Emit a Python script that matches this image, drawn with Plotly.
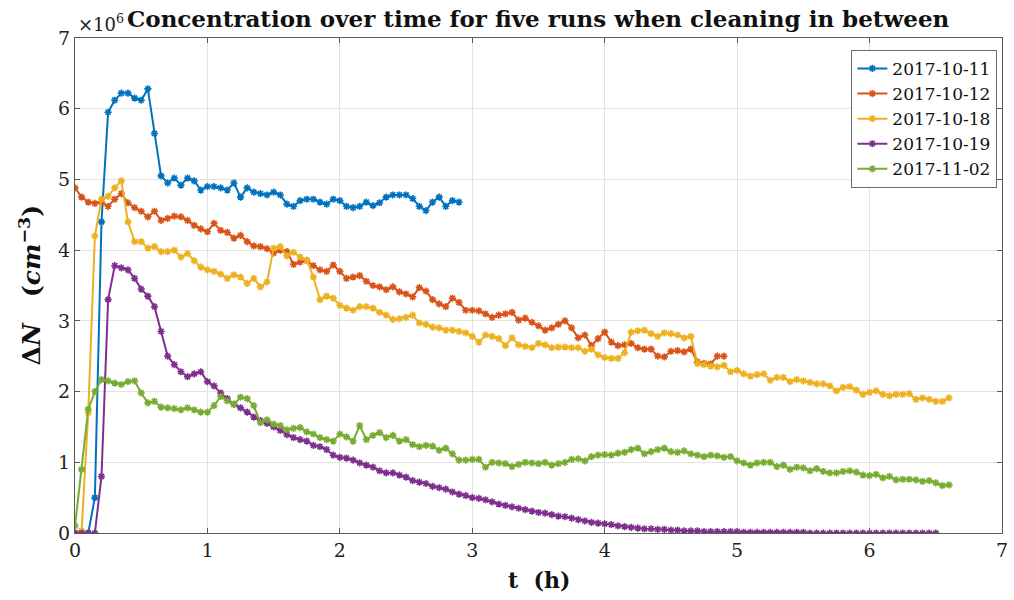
import numpy as np
import plotly.graph_objects as go

DT = 0.05  # sampling step in hours

series_names = ["2017-10-11", "2017-10-12", "2017-10-18", "2017-10-19", "2017-11-02"]
colors = ["#0072BD", "#D95319", "#EDB120", "#7E2F8E", "#77AC30"]

# Concentration values in units of 1e6 cm^-3, sampled every 0.05 h from t=0
run_2017_10_11 = [0, 0, 0, 0.5, 4.4, 5.95, 6.12, 6.22, 6.22, 6.15, 6.12, 6.28, 5.65, 5.05, 4.95, 5.02,
                  4.92, 5.02, 4.98, 4.85, 4.9, 4.9, 4.88, 4.85, 4.95, 4.75, 4.88, 4.82, 4.8, 4.78, 4.82,
                  4.78, 4.65, 4.62, 4.7, 4.72, 4.72, 4.68, 4.65, 4.72, 4.7, 4.62, 4.6, 4.62, 4.68, 4.63,
                  4.67, 4.75, 4.78, 4.78, 4.78, 4.73, 4.62, 4.56, 4.68, 4.75, 4.62, 4.7, 4.68]

run_2017_10_12 = [4.88, 4.75, 4.68, 4.66, 4.68, 4.62, 4.72, 4.8, 4.67, 4.6, 4.55, 4.47, 4.55, 4.42, 4.45,
                  4.48, 4.47, 4.42, 4.35, 4.3, 4.26, 4.38, 4.28, 4.25, 4.17, 4.21, 4.12, 4.06, 4.05, 4.02,
                  3.96, 4.0, 3.98, 3.8, 3.83, 3.85, 3.78, 3.72, 3.7, 3.79, 3.7, 3.6, 3.62, 3.64, 3.56,
                  3.5, 3.48, 3.44, 3.48, 3.41, 3.38, 3.34, 3.47, 3.42, 3.3, 3.24, 3.2, 3.32, 3.26, 3.15,
                  3.15, 3.14, 3.1, 3.05, 3.08, 3.1, 3.12, 3.01, 3.04, 2.98, 2.93, 2.87, 2.9, 2.95, 3.0,
                  2.9, 2.76, 2.8, 2.65, 2.75, 2.84, 2.7, 2.65, 2.66, 2.68, 2.62, 2.6, 2.6, 2.5, 2.49,
                  2.57, 2.58, 2.56, 2.6, 2.42, 2.4, 2.39, 2.5, 2.5]

run_2017_10_18 = [0, 0.03, 1.7, 4.2, 4.72, 4.76, 4.88, 4.98, 4.4, 4.12, 4.12, 4.03, 4.05, 3.98, 3.98,
                  4.0, 3.9, 3.95, 3.85, 3.76, 3.72, 3.7, 3.66, 3.6, 3.65, 3.62, 3.53, 3.6, 3.48, 3.55,
                  4.03, 4.05, 3.92, 3.97, 3.9, 3.86, 3.62, 3.3, 3.35, 3.32, 3.22, 3.18, 3.15, 3.2, 3.2,
                  3.18, 3.12, 3.08, 3.02, 3.03, 3.05, 3.08, 2.97, 2.95, 2.91, 2.9, 2.87, 2.87, 2.85, 2.83,
                  2.78, 2.7, 2.8, 2.78, 2.75, 2.65, 2.76, 2.66, 2.64, 2.62, 2.68, 2.66, 2.62, 2.63, 2.63,
                  2.62, 2.62, 2.57, 2.6, 2.52, 2.48, 2.47, 2.47, 2.55, 2.84, 2.86, 2.87, 2.82, 2.78, 2.83,
                  2.82, 2.8, 2.76, 2.78, 2.4, 2.38, 2.36, 2.35, 2.37, 2.28, 2.3, 2.25, 2.22, 2.24, 2.25,
                  2.16, 2.2, 2.2, 2.14, 2.17, 2.15, 2.13, 2.11, 2.11, 2.08, 2.01, 2.06, 2.07, 2.02, 1.96,
                  1.99, 2.01, 1.96, 1.94, 1.96, 1.96, 1.97, 1.89, 1.91, 1.89, 1.86, 1.86, 1.91]

run_2017_10_19 = [0, 0, 0, 0, 0.8, 3.3, 3.78, 3.75, 3.72, 3.6, 3.45, 3.35, 3.2, 2.85, 2.5, 2.38, 2.28,
                  2.21, 2.25, 2.28, 2.14, 2.08, 1.98, 1.9, 1.82, 1.77, 1.71, 1.64, 1.59, 1.55, 1.5, 1.45,
                  1.39, 1.35, 1.32, 1.3, 1.24, 1.22, 1.18, 1.1, 1.07, 1.06, 1.03, 0.99, 0.96, 0.93, 0.88,
                  0.85, 0.85, 0.82, 0.79, 0.74, 0.72, 0.7, 0.66, 0.64, 0.62, 0.58, 0.55, 0.53, 0.5, 0.49,
                  0.47, 0.44, 0.41, 0.39, 0.37, 0.35, 0.33, 0.31, 0.29, 0.28, 0.26, 0.24, 0.23, 0.21, 0.19,
                  0.17, 0.15, 0.14, 0.13, 0.12, 0.1, 0.09, 0.08, 0.07, 0.06, 0.06, 0.05, 0.05, 0.04, 0.04,
                  0.03, 0.03, 0.03, 0.02, 0.02, 0.02, 0.02, 0.02, 0.02, 0.01, 0.01, 0.01, 0.01, 0.01, 0.01,
                  0.01, 0.01, 0.01, 0.01, 0, 0, 0, 0, 0, 0, 0, 0, 0, 0, 0, 0, 0, 0, 0, 0, 0, 0, 0, 0]

run_2017_11_02 = [0.1, 0.9, 1.75, 2.0, 2.17, 2.15, 2.12, 2.1, 2.14, 2.15, 1.98, 1.84, 1.86, 1.78, 1.77,
                  1.76, 1.74, 1.77, 1.74, 1.71, 1.71, 1.8, 1.93, 1.87, 1.82, 1.92, 1.9, 1.8, 1.56, 1.6,
                  1.54, 1.52, 1.46, 1.48, 1.49, 1.43, 1.4, 1.35, 1.32, 1.3, 1.4, 1.36, 1.3, 1.52, 1.32,
                  1.38, 1.42, 1.35, 1.38, 1.3, 1.32, 1.25, 1.22, 1.24, 1.23, 1.17, 1.2, 1.12, 1.03, 1.03,
                  1.04, 1.04, 0.93, 1.0, 0.99, 0.98, 0.94, 0.97, 1.0, 0.99, 0.98, 1.0, 0.96, 0.98, 1.0,
                  1.04, 1.05, 1.02, 1.08, 1.1, 1.11, 1.1, 1.13, 1.14, 1.18, 1.2, 1.12, 1.15, 1.18, 1.2,
                  1.15, 1.14, 1.16, 1.12, 1.1, 1.08, 1.1, 1.09, 1.07, 1.08, 1.02, 0.99, 0.96, 0.99, 1.0,
                  1.0, 0.94, 0.96, 0.9, 0.93, 0.92, 0.88, 0.91, 0.87, 0.85, 0.85, 0.87, 0.88, 0.86, 0.82,
                  0.81, 0.83, 0.78, 0.8, 0.75, 0.76, 0.76, 0.75, 0.73, 0.74, 0.71, 0.67, 0.68]

all_runs = [run_2017_10_11, run_2017_10_12, run_2017_10_18, run_2017_10_19, run_2017_11_02]

x_ticks = [0, 1, 2, 3, 4, 5, 6, 7]
y_ticks = [0, 1, 2, 3, 4, 5, 6, 7]

FONT = "DejaVu Serif"

fig = go.Figure()
for name, vals, col in zip(series_names, all_runs, colors):
    t = np.round(np.arange(len(vals)) * DT, 3)
    fig.add_trace(go.Scatter(
        x=t, y=vals, name=name, mode="lines+markers",
        line=dict(color=col, width=2),
        marker=dict(symbol="asterisk-open", size=6, color=col, line=dict(color=col, width=1.6)),
    ))

axis_common = dict(
    showgrid=True, gridcolor="#e3e3e3", gridwidth=1,
    showline=True, linecolor="#5a5a5a", linewidth=1, mirror="ticks",
    ticks="inside", ticklen=5, tickcolor="#5a5a5a",
    zeroline=False, ticklabeloverflow="allow",
    tickfont=dict(family=FONT, size=19, color="#222222"),
)

fig.update_xaxes(range=[0, 7], tickvals=x_ticks, ticktext=[str(v) for v in x_ticks], **axis_common)
fig.update_yaxes(range=[0, 7], tickvals=y_ticks, ticktext=[str(v) for v in y_ticks], **axis_common)

fig.update_layout(
    width=1014, height=600,
    margin=dict(l=75, r=6, t=38, b=67),
    plot_bgcolor="white", paper_bgcolor="white",
    font=dict(family=FONT, color="#111111"),
    showlegend=True,
    legend=dict(
        x=0.995, y=0.976, xanchor="right", yanchor="top",
        bgcolor="white", bordercolor="#6a6a6a", borderwidth=1,
        font=dict(family=FONT, size=17, color="#111111"),
        itemwidth=30, tracegroupgap=0,
    ),
    annotations=[
        dict(text="<b>Concentration over time for five runs when cleaning in between</b>",
             xref="paper", yref="paper", x=0.5, y=1.0, yshift=20, xanchor="center", yanchor="middle",
             showarrow=False, font=dict(family=FONT, size=23, color="#111111")),
        dict(text="×10<sup>6</sup>", xref="paper", yref="paper", x=0.0, y=1.0, xshift=1, yshift=1,
             xanchor="left", yanchor="bottom", showarrow=False,
             font=dict(family=FONT, size=18, color="#222222")),
        dict(text="<b>t  (h)</b>", xref="paper", yref="paper", x=0.5, y=0.0, yshift=-47,
             xanchor="center", yanchor="middle", showarrow=False,
             font=dict(family=FONT, size=22, color="#111111")),
        dict(text="<b>Δ<i>N</i>&nbsp;&nbsp;&nbsp;(<i>cm</i><sup>−3</sup>)</b>", xref="paper", yref="paper",
             x=0.0, xshift=-45, y=0.5, xanchor="center", yanchor="middle", textangle=-90,
             showarrow=False, font=dict(family=FONT, size=25, color="#111111")),
    ],
)

fig.write_html("out.html")
